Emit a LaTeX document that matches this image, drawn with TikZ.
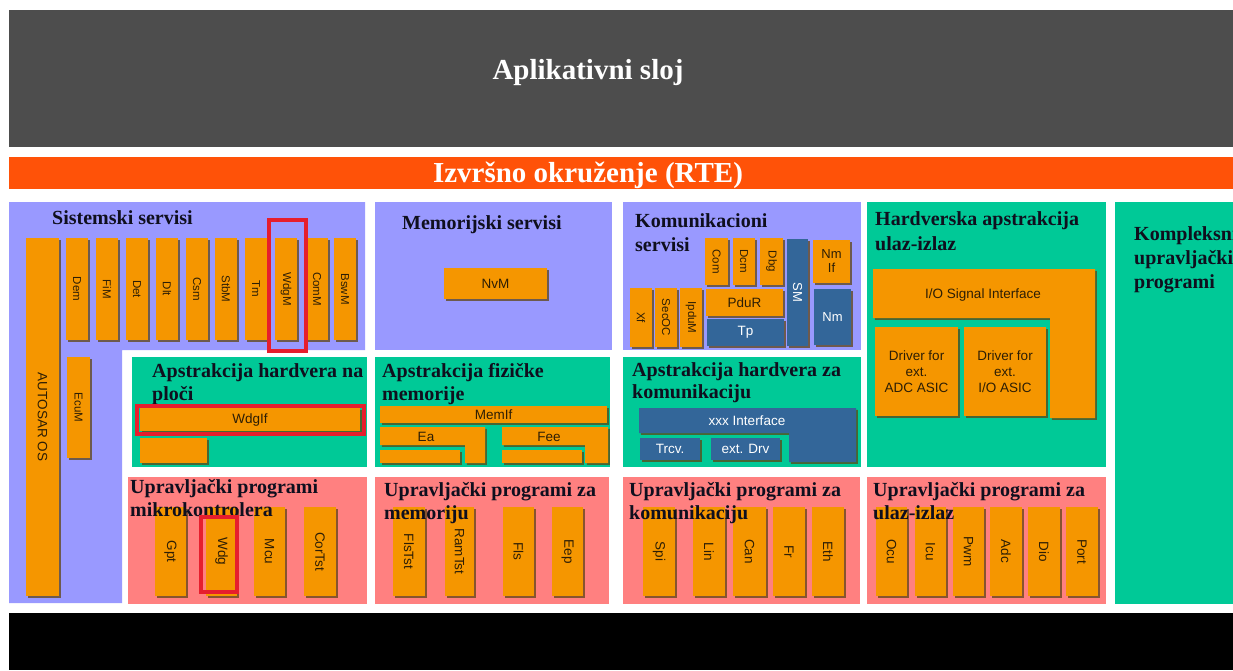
\documentclass[tikz,border=0pt]{standalone}
\usepackage{fontspec}
\setmainfont{Liberation Serif}
\newfontfamily\arialf{Liberation Sans}
\usetikzlibrary{shadows}
\definecolor{topgray}{RGB}{77,77,77}
\definecolor{rteor}{RGB}{255,82,8}
\definecolor{lav}{RGB}{153,153,255}
\definecolor{grn}{RGB}{0,201,151}
\definecolor{pnk}{RGB}{255,128,128}
\definecolor{boxor}{RGB}{245,150,0}
\definecolor{boxbl}{RGB}{51,102,153}
\definecolor{hlred}{RGB}{230,30,45}
\definecolor{boxtxt}{RGB}{45,30,5}
\definecolor{ttlc}{RGB}{15,15,30}
\definecolor{shad}{RGB}{95,70,20}
\newcommand\rlab[1]{\rotatebox{-90}{#1}}
\newcommand\bx[7][obox]{\node[#1, minimum width={#5-#3}, minimum height={#6-#4}] (#2) at ({(#3+#5)/2},{(#4+#6)/2}) {#7};}
\tikzset{
  shd/.style={drop shadow={shadow xshift=1.8pt, shadow yshift=-1.8pt, fill=shad, opacity=0.75}},
  obox/.style={fill=boxor, inner sep=0pt, outer sep=0pt, shd, text=boxtxt, align=center,
    font=\arialf\fontsize{13.5}{16}\selectfont},
  bbox/.style={obox, fill=boxbl, text=white},
  sl/.style={font=\arialf\fontsize{11.5}{13}\selectfont},
  ml/.style={font=\arialf\fontsize{13}{14}\selectfont},
  dl/.style={font=\arialf\fontsize{13.5}{15}\selectfont},
  lshape/.style={fill=boxor, shd},
  lshapeb/.style={fill=boxbl, shd},
  lbl/.style={inner sep=0pt, text=boxtxt, font=\arialf\fontsize{13.5}{16}\selectfont},
  ttl/.style={font=\fontsize{20}{24}\selectfont\bfseries, text=ttlc, anchor=base west, inner sep=0pt},
  bigttl/.style={font=\fontsize{29}{32}\selectfont\bfseries, text=white, anchor=base, inner sep=0pt},
  hl/.style={draw=hlred, line width=3.6pt}
}
\begin{document}
\begin{tikzpicture}[x=1pt,y=-1pt]
\useasboundingbox (0,0) rectangle (1233,670);
\fill[white] (0,0) rectangle (1233,670);
\begin{scope}
\clip (0,0) rectangle (1233,670);
% bands
\fill[topgray] (9,10) rectangle (1233,147);
\node[bigttl] (app) at (588,79) {Aplikativni sloj};
\fill[rteor] (9,157) rectangle (1233,189);
\node[bigttl] (rte) at (588,182) {Izvršno okruženje (RTE)};
\fill[black] (9,613) rectangle (1233,670);
% panels
\fill[lav] (9,202) -- (365,202) -- (365,350) -- (122,350) -- (122,603) -- (9,603) -- cycle;
\fill[lav] (375,202) rectangle (612,350);
\fill[lav] (623,202) rectangle (861,350);
\fill[grn] (867,202) rectangle (1106,467);
\fill[grn] (1115,202) rectangle (1233,604);
\fill[grn] (132,357) rectangle (367,467);
\fill[grn] (375,357) rectangle (610,467);
\fill[grn] (623,357) rectangle (861,467);
\fill[pnk] (128,477) rectangle (367,604);
\fill[pnk] (375,477) rectangle (609,604);
\fill[pnk] (623,477) rectangle (860,604);
\fill[pnk] (867,477) rectangle (1106,604);

% ---- Sistemski servisi
\bx{aos}{26}{238}{59}{596}{\rlab{AUTOSAR OS}}
\bx[obox,sl]{ecum}{67}{357}{90}{458}{\rlab{EcuM}}
\bx[obox,sl]{dem}{66}{238}{88}{340}{\rlab{Dem}}
\bx[obox,sl]{fim}{96}{238}{118}{340}{\rlab{FiM}}
\bx[obox,sl]{det}{126}{238}{148}{340}{\rlab{Det}}
\bx[obox,sl]{dlt}{156}{238}{178}{340}{\rlab{Dlt}}
\bx[obox,sl]{csm}{186}{238}{208}{340}{\rlab{Csm}}
\bx[obox,sl]{stbm}{215}{238}{237}{340}{\rlab{StbM}}
\bx[obox,sl]{tm}{245}{238}{267}{340}{\rlab{Tm}}
\bx[obox,sl]{wdgm}{275}{238}{297}{340}{\rlab{WdgM}}
\bx[obox,sl]{comm}{306}{238}{328}{340}{\rlab{ComM}}
\bx[obox,sl]{bswm}{334}{238}{356}{340}{\rlab{BswM}}
\node[ttl] (t1) at (52,224) {Sistemski servisi};

% ---- Memorijski servisi
\bx{nvm}{444}{268}{547}{299}{NvM}
\node[ttl] (t2) at (402,229) {Memorijski servisi};

% ---- Komunikacioni servisi
\bx[obox,sl]{com}{705}{238}{728}{285}{\rlab{Com}}
\bx[obox,sl]{dcm}{733}{238}{755}{285}{\rlab{Dcm}}
\bx[obox,sl]{dbg}{760}{238}{783}{285}{\rlab{Dbg}}
\bx[bbox,ml]{sm}{787}{239}{808}{346}{\rlab{SM}}
\bx[obox,ml]{nmif}{813}{240}{850}{283}{Nm\\If}
\bx[bbox,ml]{nm}{814}{289}{851}{345}{Nm}
\bx[obox,sl]{xf}{630}{288}{652}{347}{\rlab{Xf}}
\bx[obox,sl]{secoc}{655}{288}{677}{347}{\rlab{SecOC}}
\bx[obox,sl]{ipdum}{680}{288}{702}{347}{\rlab{IpduM}}
\bx{pdur}{706}{289}{783}{316}{PduR}
\bx[bbox]{tp}{707}{319}{784}{346}{Tp}
\node[ttl] (t3a) at (635,227) {Komunikacioni};
\node[ttl] (t3b) at (635,251) {servisi};

% ---- Hardverska apstrakcija ulaz-izlaz
\path[lshape] (873,269) -- (1095,269) -- (1095,418) -- (1050,418) -- (1050,318) -- (873,318) -- cycle;
\node[lbl] (iosi) at (983,295) {I/O Signal Interface};
\bx{dadc}{875}{327}{958}{416}{Driver for\\ext.\\ADC ASIC}
\bx{dio}{964}{327}{1046}{416}{Driver for\\ext.\\I/O ASIC}
\node[ttl] (t4a) at (875,225) {Hardverska apstrakcija};
\node[ttl] (t4b) at (875,250) {ulaz-izlaz};

% ---- Kompleksni
\node[ttl] (t5a) at (1134,240) {Kompleksni};
\node[ttl] (t5b) at (1134,264) {upravljački};
\node[ttl] (t5c) at (1134,288) {programi};

% ---- Apstrakcija hardvera na ploci
\bx{wdgif}{140}{408}{360}{431}{WdgIf}
\bx{bsmall}{140}{438}{207}{463}{}
\node[ttl] (t6a) at (152,377) {Apstrakcija hardvera na};
\node[ttl] (t6b) at (152,400) {ploči};

% ---- Apstrakcija fizicke memorije
\bx{memif}{380}{406}{607}{423}{MemIf}
\path[lshape] (380,427) -- (485,427) -- (485,463) -- (465,463) -- (465,445) -- (380,445) -- cycle;
\node[lbl] (ea) at (426,437) {Ea};
\bx{eas}{380}{450}{460}{463}{}
\path[lshape] (502,427) -- (608,427) -- (608,463) -- (585,463) -- (585,445) -- (502,445) -- cycle;
\node[lbl] (fee) at (549,437) {Fee};
\bx{fees}{502}{450}{582}{463}{}
\node[ttl] (t7a) at (382,377) {Apstrakcija fizičke};
\node[ttl] (t7b) at (382,400) {memorije};

% ---- Apstrakcija hardvera za komunikaciju
\path[lshapeb] (639,408) -- (856,408) -- (856,462) -- (789,462) -- (789,433) -- (639,433) -- cycle;
\node[lbl, text=white] (xxx) at (747,421) {xxx Interface};
\bx[bbox]{trcv}{640}{438}{700}{460}{Trcv.}
\bx[bbox]{extdrv}{711}{438}{780}{460}{ext. Drv}
\node[ttl] (t8a) at (632,376) {Apstrakcija hardvera za};
\node[ttl] (t8b) at (632,398) {komunikaciju};

% ---- Driver row
\bx[obox,dl]{gpt}{155}{507}{186}{596}{\rlab{Gpt}}
\bx[obox,dl]{wdg}{206}{507}{237}{596}{\rlab{Wdg}}
\bx[obox,dl]{mcu}{254}{507}{285}{596}{\rlab{Mcu}}
\bx[obox,dl]{cortst}{304}{507}{336}{596}{\rlab{CorTst}}
\bx[obox,dl]{flstst}{393}{507}{425}{596}{\rlab{FlsTst}}
\bx[obox,dl]{ramtst}{445}{507}{474}{596}{\rlab{RamTst}}
\bx[obox,dl]{fls}{503}{507}{534}{596}{\rlab{Fls}}
\bx[obox,dl]{eep}{552}{507}{583}{596}{\rlab{Eep}}
\bx[obox,dl]{spi}{643}{507}{675}{596}{\rlab{Spi}}
\bx[obox,dl]{lin}{693}{507}{725}{596}{\rlab{Lin}}
\bx[obox,dl]{can}{733}{507}{766}{596}{\rlab{Can}}
\bx[obox,dl]{fr}{773}{507}{805}{596}{\rlab{Fr}}
\bx[obox,dl]{eth}{812}{507}{844}{596}{\rlab{Eth}}
\bx[obox,dl]{ocu}{876}{507}{907}{596}{\rlab{Ocu}}
\bx[obox,dl]{icu}{915}{507}{946}{596}{\rlab{Icu}}
\bx[obox,dl]{pwm}{953}{507}{984}{596}{\rlab{Pwm}}
\bx[obox,dl]{adc}{990}{507}{1022}{596}{\rlab{Adc}}
\bx[obox,dl]{dioc}{1028}{507}{1060}{596}{\rlab{Dio}}
\bx[obox,dl]{port}{1066}{507}{1098}{596}{\rlab{Port}}
\node[ttl] (t9a) at (130,493) {Upravljački programi};
\node[ttl] (t9b) at (130,516) {mikrokontrolera};
\node[ttl] (t10a) at (384,496) {Upravljački programi za};
\node[ttl] (t10b) at (384,519) {memoriju};
\node[ttl] (t11a) at (629,496) {Upravljački programi za};
\node[ttl] (t11b) at (629,519) {komunikaciju};
\node[ttl] (t12a) at (873,496) {Upravljački programi za};
\node[ttl] (t12b) at (873,519) {ulaz-izlaz};

% ---- red highlights
\draw[hl] (269,220) rectangle (306,351);
\draw[hl] (137,406) rectangle (364,434);
\draw[hl] (201,517) rectangle (237,592);
\end{scope}
\end{tikzpicture}
\end{document}
